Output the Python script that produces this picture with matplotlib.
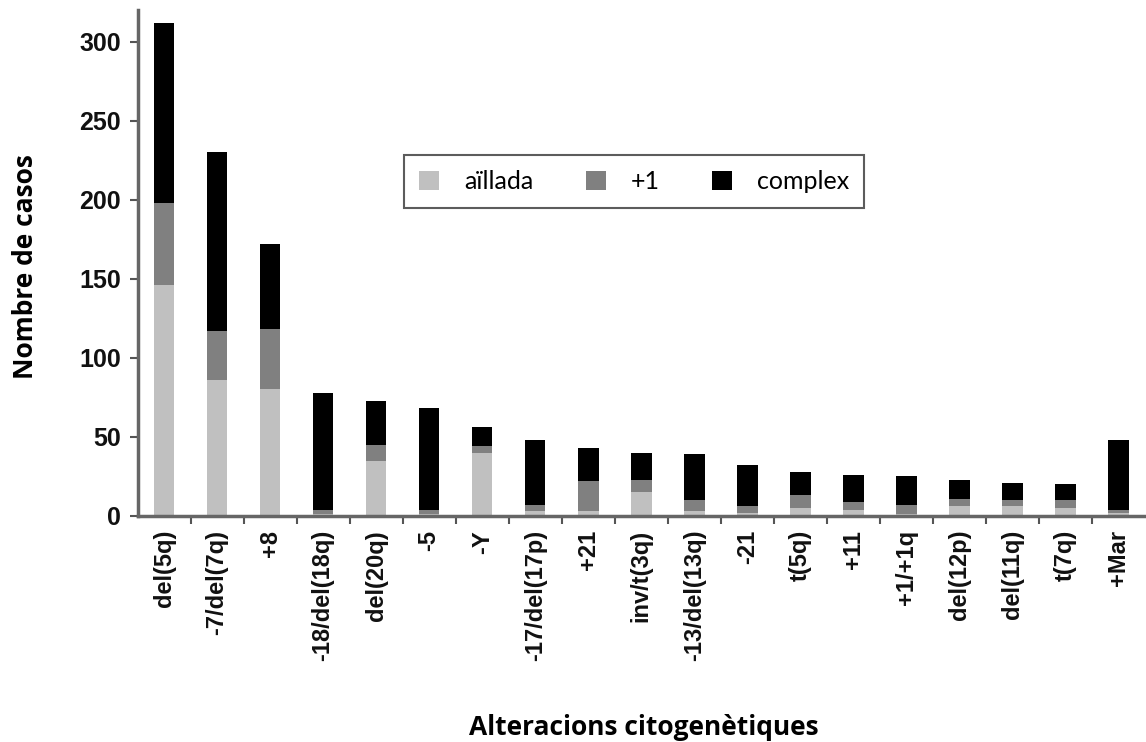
import numpy as np
import matplotlib
matplotlib.use('Agg')
import matplotlib.pyplot as plt
from matplotlib.ticker import FixedLocator

# data
categories = ['del(5q)', '-7/del(7q)', '+8', '-18/del(18q)', 'del(20q)', '-5', '-Y',
              '-17/del(17p)', '+21', 'inv/t(3q)', '-13/del(13q)', '-21', 't(5q)', '+11',
              '+1/+1q', 'del(12p)', 'del(11q)', 't(7q)', '+Mar']
aillada = [146, 86, 80, 1, 35, 1, 40, 3, 3, 15, 3, 2, 5, 4, 1, 6, 6, 5, 2]
plus_one = [52, 31, 38, 3, 10, 3, 4, 4, 19, 8, 7, 4, 8, 5, 6, 5, 4, 5, 2]
complex_ = [114, 113, 54, 74, 28, 64, 12, 41, 21, 17, 29, 26, 15, 17, 18, 12, 11, 10, 44]

n = len(categories)

fig = plt.figure(figsize=(11.46, 7.42), dpi=100)
ax = fig.add_axes([0.120, 0.3046, 0.879, 0.682])

x = np.arange(n)
w = 0.39
a = np.array(aillada)
p = np.array(plus_one)
c = np.array(complex_)
ax.bar(x, a, w, color='#c0c0c0', label='aïllada')
ax.bar(x, p, w, bottom=a, color='#808080', label='+1')
ax.bar(x, c, w, bottom=a + p, color='black', label='complex')

ax.set_xlim(-0.5, n - 0.5)
ax.set_ylim(0, 320)
ax.set_yticks([0, 50, 100, 150, 200, 250, 300])
ax.set_xticks(x)
ax.set_xticklabels(categories, rotation=90, fontsize=17, fontweight='bold',
                   family='Liberation Sans', color='#111111')
ax.xaxis.set_minor_locator(FixedLocator(x[:-1] + 0.5))
ax.tick_params(axis='x', which='major', length=0, pad=10)
ax.tick_params(axis='x', which='minor', length=6, width=1.5, color='#555555')
ax.tick_params(axis='y', length=6, width=1.5, color='#555555', pad=6)
for lab in ax.get_yticklabels():
    lab.set_fontsize(18)
    lab.set_fontweight('bold')
    lab.set_family('Liberation Sans')
    lab.set_color('#111111')

for s in ['top', 'right']:
    ax.spines[s].set_visible(False)
for s in ['left', 'bottom']:
    ax.spines[s].set_linewidth(2.5)
    ax.spines[s].set_color('#666666')

fig.text(0.022, 0.641, 'Nombre de casos', rotation=90, ha='center', va='center',
         fontsize=19, fontweight='bold', family='Open Sans')
fig.text(0.562, 0.019, 'Alteracions citogenètiques', ha='center', va='center',
         fontsize=19, fontweight='bold', family='Open Sans')

leg = ax.legend(ncol=3, loc='center', bbox_to_anchor=(0.493, 0.66),
                frameon=True, fancybox=False, prop={'family': 'Lato', 'size': 18},
                handlelength=0.8, handleheight=0.8, columnspacing=2.1,
                handletextpad=1.0, borderpad=0.6, borderaxespad=0)
leg.get_frame().set_edgecolor('#333333')
leg.get_frame().set_linewidth(1.5)

fig.savefig('out.png', dpi=100)
